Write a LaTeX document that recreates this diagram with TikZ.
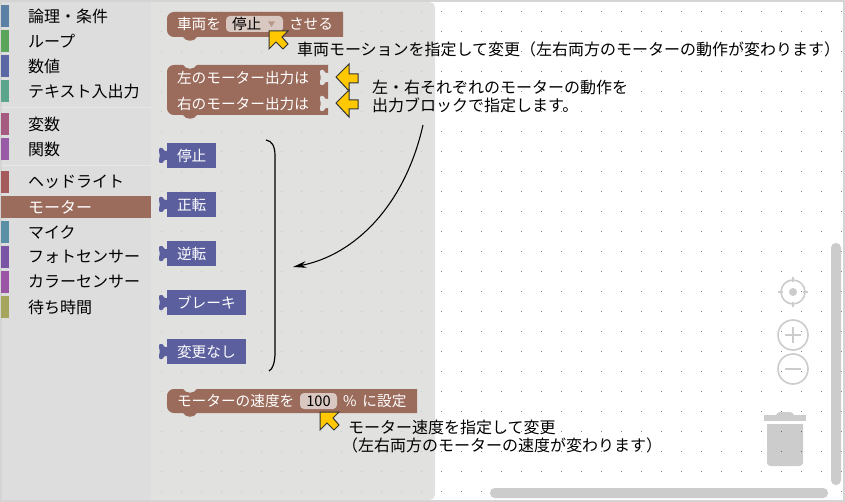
\documentclass[tikz,border=0pt]{standalone}
\usepackage{fontspec}
\setmainfont{Noto Sans CJK JP}
\usetikzlibrary{
		arrows.meta,
		positioning
	}
\definecolor{frame-gray}{HTML}{D4D4D4}
\definecolor{sidebar-gray}{HTML}{DDDDDD}
\definecolor{sidebar-line}{HTML}{E8E8E8}
\definecolor{flyout-gray}{HTML}{E1E1E0}
\definecolor{icon-gray}{HTML}{CCCCCC}
\definecolor{block-brown}{HTML}{9B6B5B}
\definecolor{block-blue}{HTML}{5B5F9E}
\definecolor{field-light}{HTML}{D9C8C1}
\definecolor{pointer-yellow}{HTML}{FFC800}
\definecolor{cat-logic}{HTML}{5B80A5}
\definecolor{cat-loop}{HTML}{5BA55B}
\definecolor{cat-math}{HTML}{5B67A5}
\definecolor{cat-text}{HTML}{5BA58C}
\definecolor{cat-var}{HTML}{A55B80}
\definecolor{cat-func}{HTML}{995BA5}
\definecolor{cat-light}{HTML}{A55B5B}
\definecolor{cat-mic}{HTML}{5B8FA5}
\definecolor{cat-photo}{HTML}{7A55A5}
\definecolor{cat-color}{HTML}{9B55A5}
\definecolor{cat-wait}{HTML}{A5A55B}
\newcommand{\stackblock}[5]{%
	\path [fill = block-brown]
		({#1}, {#2 + 7}) .. controls ({#1}, {#2 + 3}) and ({#1 + 3}, {#2}) .. ({#1 + 7}, {#2}) --
		({#1 + 16}, {#2}) .. controls ({#1 + 19}, {#2 + #5}) and ({#1 + 27}, {#2 + #5}) .. ({#1 + 30}, {#2}) --
		({#3}, {#2}) -- ({#3}, {#4}) --
		({#1 + 30}, {#4}) .. controls ({#1 + 27}, {#4 + 5}) and ({#1 + 19}, {#4 + 5}) .. ({#1 + 16}, {#4}) --
		({#1 + 7}, {#4}) .. controls ({#1 + 3}, {#4}) and ({#1}, {#4 - 3}) .. ({#1}, {#4 - 7}) -- cycle;
}
\newcommand{\puzzletab}[3]{%
	\path [fill = #3, rounded corners = 0.8pt]
		({#1 + 1}, {#2 + 3}) -- ({#1 - 3}, {#2 + 3}) -- ({#1 - 4}, {#2}) -- ({#1 - 8}, {#2}) --
		({#1 - 8}, {#2 + 4}) -- ({#1 - 7}, {#2 + 7.5}) -- ({#1 - 8}, {#2 + 11}) -- ({#1 - 8}, {#2 + 15}) --
		({#1 - 4}, {#2 + 15}) -- ({#1 - 3}, {#2 + 12}) -- ({#1 + 1}, {#2 + 12}) -- cycle;
}
\tikzset{%
		every node/.style = {
			inner sep = 0pt,
			outer sep = 0pt
		},
		cattext/.style = {
			anchor = west,
			font = \fontsize{12}{14}\selectfont
		},
		blocktext/.style = {
			anchor = west,
			text = white,
			font = \fontsize{11}{13}\selectfont
		},
		valueblock/.style = {
			blocktext,
			fill = block-blue,
			minimum height = 18.75pt,
			inner xsep = 7.5pt
		},
		fieldbox/.style = {
			fill = field-light,
			rounded corners = 3pt,
			minimum height = 12pt,
			font = \fontsize{11}{13}\selectfont
		},
		remark/.style = {
			anchor = west,
			align = left,
			font = \fontsize{12}{13.5}\selectfont
		},
		iconline/.style = {
			draw = icon-gray,
			line width = 1.2pt
		},
		pointerup/.pic = {
			\draw [fill = pointer-yellow, draw = black!80, line width = 0.75pt]
				(0, 0) -- (19, 0) -- (13, 6) -- (19, 13) -- (14, 18) -- (7, 11) -- (0, 18) -- cycle;
		},
		pointerleft/.pic = {
			\draw [fill = pointer-yellow, draw = black!80, line width = 0.75pt]
				(0, 0) -- (13, -13) -- (13, -3) -- (22, -3) -- (22, 6) -- (13, 6) -- (13, 14) -- cycle;
		}
	}

\begin{document}
\begin{tikzpicture}[x = 0.75pt, y = -0.75pt]
	\useasboundingbox (0, 0) rectangle (845, 502);
	\fill [frame-gray] (0, 0) rectangle (845, 502);
	\fill [white] (2, 2) rectangle (843, 500);
	\foreach \dotx in {441, 461, ..., 841}
		\foreach \doty in {11, 31, ..., 491}
			\fill [black!50] (\dotx, \doty) rectangle ++(1, 1);

	% Flyout and category list
	\path [fill = flyout-gray, rounded corners = 4pt]
		(140, 2) -- (435, 2) -- (435, 500) -- (140, 500) -- cycle;
	\foreach \dotx in {161, 181, ..., 421}
		\foreach \doty in {11, 31, ..., 491}
			\fill [black!22] (\dotx, \doty) rectangle ++(1, 1);
	\fill [sidebar-gray] (2, 2) rectangle (151, 500);
	\fill [sidebar-line] (2, 107) rectangle (151, 108);
	\fill [sidebar-line] (2, 165) rectangle (151, 166);
	\foreach \catname/\caty/\catcolor/\cattitle in {
			logic/16/cat-logic/論理・条件,
			loop/41/cat-loop/ループ,
			math/66/cat-math/数値,
			text/91/cat-text/テキスト入出力,
			var/124/cat-var/変数,
			func/149/cat-func/関数,
			light/182/cat-light/ヘッドライト,
			mic/232/cat-mic/マイク,
			photo/257/cat-photo/フォトセンサー,
			color/282/cat-color/カラーセンサー,
			wait/307/cat-wait/待ち時間
		} {
		\fill [\catcolor] (1, \caty - 11) rectangle (9, \caty + 11);
		\node [cattext] (\catname) at (28, \caty) {\cattitle};
	}
	\fill [block-brown] (1, 196) rectangle (151, 218);
	\node [cattext, text = white] (motor) at (28, 207) {モーター};

	% Blocks
	\stackblock{167}{12}{343}{37}{0}
	\node [blocktext] (vehicle) at (177, 24) {車両を};
	\node [fieldbox, minimum width = 42.75pt] (dropfield) at (254.5, 24) {};
	\node [blocktext, text = black] (dropvalue) at (232, 24) {停止};
	\fill [block-brown!70!white] (268, 21.5) -- (275, 21.5) -- (271.5, 27) -- cycle;
	\node [blocktext] (makeit) at (289, 24) {させる};

	\stackblock{167}{65}{328}{115}{5}
	\puzzletab{328}{70}{flyout-gray}
	\puzzletab{328}{96}{flyout-gray}
	\node [blocktext] (leftout) at (177, 78) {左のモーター出力は};
	\node [blocktext] (rightout) at (177, 104) {右のモーター出力は};

	\foreach \blockname/\blocky/\blocktitle in {
			stopblock/155.5/停止,
			forward/204.5/正転,
			reverse/253.5/逆転,
			brake/302.5/ブレーキ,
			nochange/351.5/変更なし
		} {
		\node [valueblock] (\blockname) at (167, \blocky) {\blocktitle};
		\puzzletab{167}{\blocky - 7.5}{block-blue}
	}

	\stackblock{167}{389}{417}{413}{5}
	\node [blocktext] (speedlabel) at (177, 401) {モーターの速度を};
	\node [fieldbox, minimum width = 27.75pt] (speedvalue) at (318.5, 401) {100};
	\node [blocktext] (speedunit) at (343, 401) {\% \hspace{2pt}に設定};

	% Pointers
	\pic at (269, 31) {pointerup};
	\pic at (336, 77) {pointerleft};
	\pic at (336, 103) {pointerleft};
	\pic at (320, 412) {pointerup};

	% Remarks
	\node [remark] (remarkmotion) at (297, 49) {車両モーションを指定して変更（左右両方のモーターの動作が変わります）};
	\node [remark] (remarkoutput) at (372, 96) {左・右それぞれのモーターの動作を\\出力ブロックで指定します。};
	\node [remark] (remarkspeed) at (348, 437) {モーター速度を指定して変更\\\hspace{-4.5pt}（左右両方のモーターの速度が変わります）};

	% Bracket and arrow
	\coordinate (arrowstart) at (423, 125);
	\coordinate (brackettip) at (293, 267);
	\draw [black, line width = 0.9pt]
		(266, 140) .. controls (272, 141) and (275, 146) .. (275, 156) --
		(275, 352) .. controls (275, 362) and (273, 369) .. (269, 371);
	\draw [-{Stealth[length = 10pt, width = 5pt]}, black, line width = 0.8pt]
		(arrowstart) .. controls (405, 205) and (355, 255) .. (brackettip);

	% Scrollbars
	\fill [icon-gray, rounded corners = 3.5pt] (831, 243) rectangle (841, 485);
	\fill [icon-gray, rounded corners = 3.5pt] (490, 488) rectangle (828, 498);

	% Workspace controls
	\draw [iconline] (793, 292) circle [radius = 12];
	\fill [icon-gray] (793, 292) circle [radius = 4];
	\draw [iconline] (778, 292) -- (783, 292) (803, 292) -- (808, 292) (793, 277) -- (793, 282) (793, 302) -- (793, 307);
	\draw [iconline] (793, 335) circle [radius = 15];
	\draw [iconline] (785, 335) -- (801, 335) (793, 327) -- (793, 343);
	\draw [iconline] (793, 369) circle [radius = 15];
	\draw [iconline] (785, 369) -- (801, 369);
	\fill [icon-gray] (764, 415) rectangle (806, 421);
	\fill [icon-gray, rounded corners = 2pt] (775, 416) -- (778, 412) -- (792, 412) -- (795, 416) -- cycle;
	\path [fill = black, fill opacity = 0.2] (767, 424) -- (803, 424) -- (803, 463)
		.. controls (803, 465) and (801, 466) .. (799, 466) -- (771, 466)
		.. controls (769, 466) and (767, 465) .. (767, 463) -- cycle;
\end{tikzpicture}
\end{document}
